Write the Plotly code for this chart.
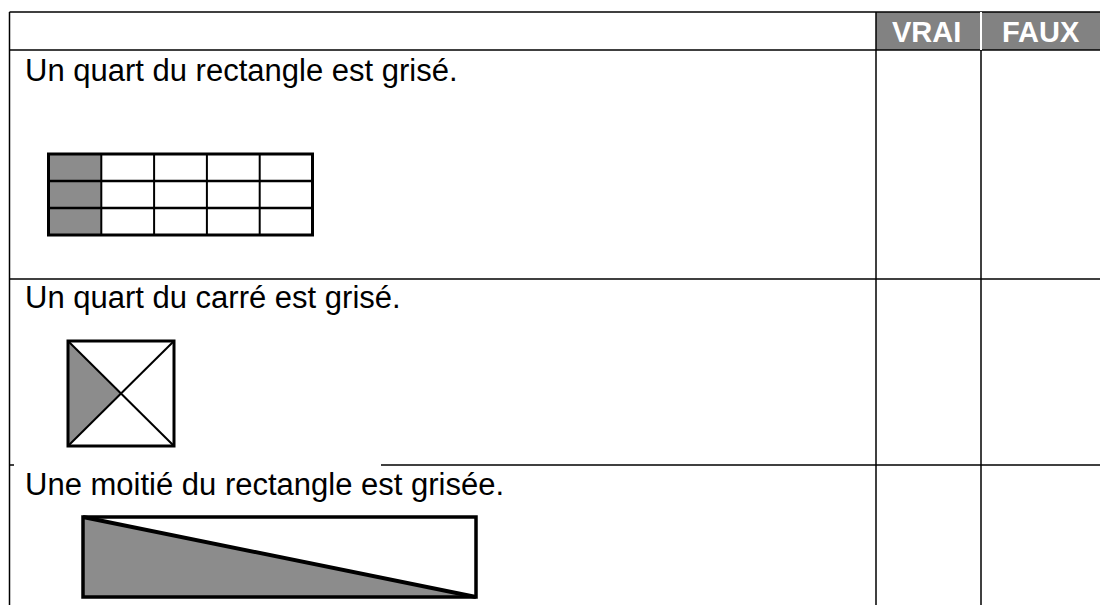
import plotly.graph_objects as go

# ---- content ----
statements = [
    "Un quart du rectangle est grisé.",
    "Un quart du carré est grisé.",
    "Une moitié du rectangle est grisée.",
]
answer_headers = ["VRAI", "FAUX"]
grid_columns = 5
grid_rows = 3
shaded_columns = 1

# ---- layout geometry (page pixels, y downward) ----
W, H = 1108, 605
OFF = 8  # default page body margin
left_x = 9.5
col_x = [876, 981]
right_x = 1120
row_y = [12, 50, 279, 465]
text_y = [70, 297, 484]
text_x = 23
header_text_x = [926.5, 1041]
header_text_y = 31.5
GRAY_HEAD = "#828282"
GRAY_FILL = "#8c8c8c"

shapes = []

def line(x0, y0, x1, y1, w=1.5, c="black"):
    shapes.append(dict(type="line", xref="x", yref="y", x0=x0, y0=y0, x1=x1, y1=y1,
                       line=dict(color=c, width=w)))

def rect(x0, y0, x1, y1, fill, w=0, c="black"):
    shapes.append(dict(type="rect", xref="x", yref="y", x0=x0, y0=y0, x1=x1, y1=y1,
                       fillcolor=fill, line=dict(color=c, width=w), layer="above"))

def poly(pts, fill):
    path = "M " + " L ".join(f"{x},{y}" for x, y in pts) + " Z"
    shapes.append(dict(type="path", xref="x", yref="y", path=path, fillcolor=fill,
                       line=dict(width=0), layer="above"))

# header cells
rect(col_x[0], row_y[0], col_x[1], row_y[1], GRAY_HEAD)
rect(col_x[1], row_y[0], right_x, row_y[1], GRAY_HEAD)

# table lines
line(left_x, row_y[0], right_x, row_y[0])
line(left_x, row_y[1], right_x, row_y[1])
line(left_x, row_y[2], right_x, row_y[2])
line(381, row_y[3], right_x, row_y[3])
line(left_x, row_y[3], 14, row_y[3])
line(left_x, row_y[0], left_x, H + OFF)
line(col_x[0], row_y[0], col_x[0], H + OFF)
line(col_x[1], row_y[1], col_x[1], H + OFF)
line(col_x[1], row_y[0], col_x[1], row_y[1], w=2, c="white")

# figure 1: grid with shaded column
gx0, gy0, gx1, gy1 = 48.5, 154, 312.5, 235
cw = (gx1 - gx0) / grid_columns
rh = (gy1 - gy0) / grid_rows
rect(gx0, gy0, gx0 + cw * shaded_columns, gy1, GRAY_FILL)
for i in range(1, grid_columns):
    line(gx0 + cw * i, gy0, gx0 + cw * i, gy1, w=2)
for j in range(1, grid_rows):
    line(gx0, gy0 + rh * j, gx1, gy0 + rh * j, w=2.5)
rect(gx0, gy0, gx1, gy1, "rgba(0,0,0,0)", w=3)

# figure 2: square with diagonals
sx0, sy0, sx1, sy1 = 68, 341, 174, 446
cx, cy = (sx0 + sx1) / 2, (sy0 + sy1) / 2
poly([(sx0, sy0), (cx, cy), (sx0, sy1)], GRAY_FILL)
line(sx0, sy0, sx1, sy1, w=2)
line(sx1, sy0, sx0, sy1, w=2)
rect(sx0, sy0, sx1, sy1, "rgba(0,0,0,0)", w=3)

# figure 3: rectangle with diagonal
rx0, ry0, rx1, ry1 = 83, 517, 476, 597
poly([(rx0, ry0), (rx1, ry1), (rx0, ry1)], GRAY_FILL)
line(rx0, ry0, rx1, ry1, w=4)
rect(rx0, ry0, rx1, ry1, "rgba(0,0,0,0)", w=3.5)

annotations = []
for s, ty in zip(statements, text_y):
    annotations.append(dict(x=text_x, y=ty, xref="x", yref="y", text=s, showarrow=False,
                            xanchor="left", yanchor="middle",
                            font=dict(family="Liberation Sans, Arial", size=31, color="black")))
for h, hx in zip(answer_headers, header_text_x):
    annotations.append(dict(x=hx, y=header_text_y, xref="x", yref="y", text=f"<b>{h}</b>",
                            showarrow=False, xanchor="center", yanchor="middle",
                            font=dict(family="Liberation Sans, Arial", size=29, color="white")))

fig = go.Figure()
fig.add_trace(go.Scatter(x=[OFF, W + OFF], y=[OFF, H + OFF], mode="markers",
                         marker=dict(opacity=0), hoverinfo="skip", showlegend=False))
fig.update_layout(
    width=W, height=H, margin=dict(l=0, r=0, t=0, b=0),
    paper_bgcolor="white", plot_bgcolor="white",
    xaxis=dict(range=[OFF, W + OFF], visible=False, fixedrange=True),
    yaxis=dict(range=[H + OFF, OFF], visible=False, fixedrange=True),
    shapes=shapes, annotations=annotations, showlegend=False,
)
fig.write_html("out.html", config={"displayModeBar": False})
